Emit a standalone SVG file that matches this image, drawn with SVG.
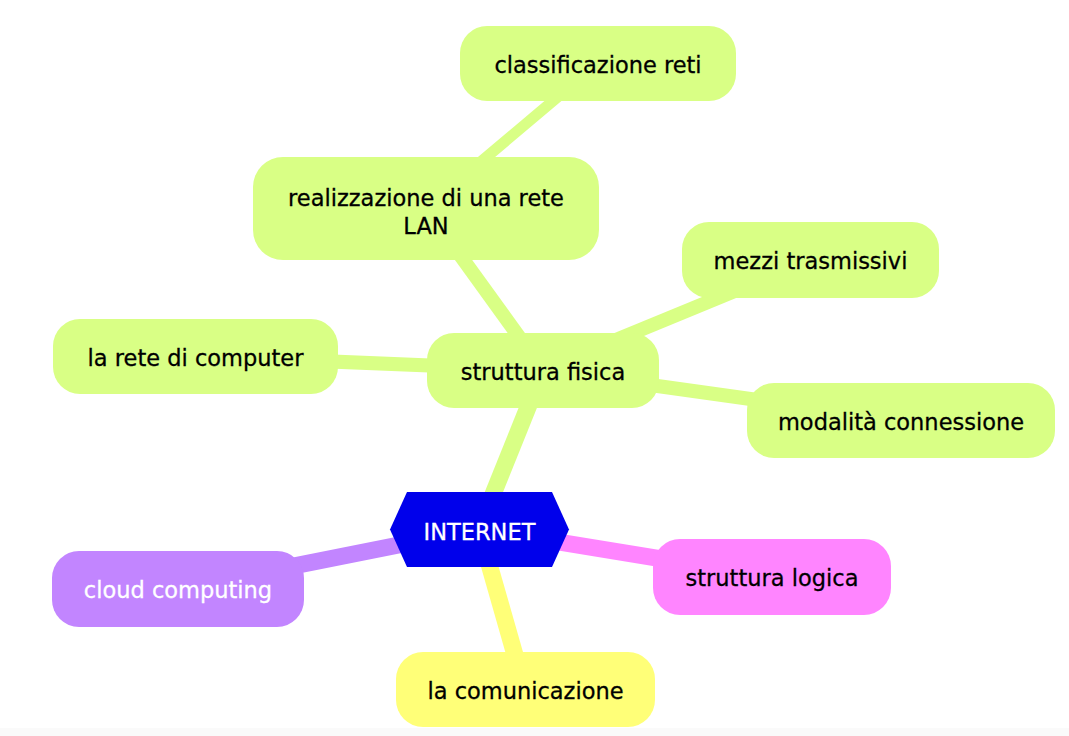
<svg xmlns="http://www.w3.org/2000/svg" width="1069" height="736" viewBox="0 0 1069 736">
<style>
.t{font-family:"DejaVu Sans",sans-serif;font-size:22.5px;text-anchor:middle;fill:#000;stroke:#000;stroke-width:0.3px}
.w{fill:#fff;stroke:#fff}
.g{fill:#d9ff85}
.e{fill:none;stroke-linecap:butt}
.e1{stroke-width:17}
.e2{stroke-width:14}
.e3{stroke-width:11}
.eg{stroke:#d9ff85}
</style>
<rect x="0" y="0" width="1069" height="736" fill="#fff"/>
<rect x="0" y="728" width="1069" height="8" fill="#fafafa"/>
<g id="connectors">
<line class="e e1 eg" x1="479" y1="529" x2="543" y2="370"/>
<line class="e e1" stroke="#c285ff" x1="479" y1="529" x2="178" y2="589"/>
<line class="e e1" stroke="#ff85ff" x1="479" y1="529" x2="772" y2="577"/>
<line class="e e1" stroke="#ffff78" x1="479" y1="529" x2="525" y2="690"/>
<line class="e e2 eg" x1="543" y1="370" x2="426" y2="208"/>
<line class="e e2 eg" x1="543" y1="370" x2="810" y2="260"/>
<line class="e e2 eg" x1="543" y1="370" x2="195" y2="356"/>
<line class="e e2 eg" x1="543" y1="370" x2="901" y2="420"/>
<line class="e e3 eg" x1="426" y1="208" x2="598" y2="63"/>
</g>
<g id="n-classificazione">
<rect class="g" x="460" y="26" width="276" height="75" rx="27"/>
<text class="t" x="598" y="73">classificazione reti</text>
</g>
<g id="n-realizzazione">
<rect class="g" x="253" y="157" width="346" height="103" rx="30"/>
<text class="t" x="426" y="206">realizzazione di una rete</text>
<text class="t" x="426" y="234">LAN</text>
</g>
<g id="n-mezzi">
<rect class="g" x="682" y="222" width="257" height="76" rx="27"/>
<text class="t" x="810.5" y="269">mezzi trasmissivi</text>
</g>
<g id="n-rete">
<rect class="g" x="53" y="319" width="285" height="75" rx="27"/>
<text class="t" x="195.5" y="366">la rete di computer</text>
</g>
<g id="n-fisica">
<rect class="g" x="427" y="333" width="232" height="75" rx="27"/>
<text class="t" x="543" y="380">struttura fisica</text>
</g>
<g id="n-modalita">
<rect class="g" x="747" y="383" width="308" height="75" rx="27"/>
<text class="t" x="901" y="430">modalità connessione</text>
</g>
<g id="n-internet">
<polygon points="390,529.5 407,492 552,492 569,529.5 552,567 407,567" fill="#0000eb"/>
<text class="t w" x="479.5" y="540">INTERNET</text>
</g>
<g id="n-cloud">
<rect x="52" y="551" width="252" height="76" rx="27" fill="#c285ff"/>
<text class="t w" x="178" y="598">cloud computing</text>
</g>
<g id="n-logica">
<rect x="653" y="539" width="238" height="76" rx="27" fill="#ff85ff"/>
<text class="t" x="772" y="586">struttura logica</text>
</g>
<g id="n-comunicazione">
<rect x="396" y="652" width="259" height="75" rx="27" fill="#ffff78"/>
<text class="t" x="525.5" y="699">la comunicazione</text>
</g>
</svg>
